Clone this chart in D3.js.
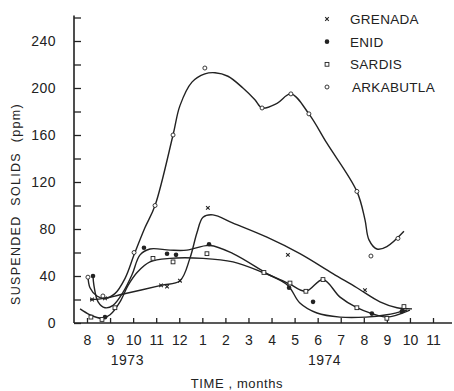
<!DOCTYPE html>
<html>
<head>
<meta charset="utf-8">
<script src="https://cdn.jsdelivr.net/npm/d3@7"></script>
<style>
    body { margin: 0; background: #fff; }
    svg text { font-family: "Liberation Sans", Arial, sans-serif; fill: #222; }
</style>
</head>
<body>
<script>
// month index: 0 = Aug 1973 ... 15 = Nov 1974
var monthTicks = d3.range(0, 16);
var monthLabels = ['8', '9', '10', '11', '12', '1', '2', '3', '4', '5', '6', '7', '8', '9', '10', '11'];
var yTicks = d3.range(0, 261, 20);
var yLabels = [0, 40, 80, 120, 160, 200, 240];
var seriesNames = ['GRENADA', 'ENID', 'SARDIS', 'ARKABUTLA'];

// measured points  [month, ppm]
var grenadaPts = [[0.22, 20], [0.78, 21], [3.21, 32], [3.47, 31], [4.03, 36], [5.24, 98], [8.71, 58], [12.05, 28], [13.7, 11]];
var enidPts = [[0.26, 40], [0.78, 5], [2.47, 64], [3.47, 59], [3.86, 58], [5.29, 67], [8.76, 30], [9.8, 18], [12.35, 8], [13.65, 10]];
var sardisPts = [[0.17, 5], [0.65, 3], [1.21, 13], [2.86, 55], [3.73, 52], [5.2, 59], [7.67, 43], [8.8, 34], [9.49, 27], [10.23, 37], [11.7, 13], [13.0, 4], [13.74, 14]];
var arkabutlaPts = [[0.04, 39], [0.69, 23], [2.04, 60], [2.95, 100], [3.73, 160], [5.11, 217], [7.59, 183], [8.84, 195], [9.62, 178], [11.7, 112], [12.31, 57], [13.48, 72]];

// fitted curves  [month, ppm]
var grenadaFit = [[0.13, 20], [0.78, 21], [1.43, 24], [3.21, 32], [4.03, 36], [4.46, 55], [4.77, 77], [5.03, 90], [5.46, 92], [6.33, 85], [7.8, 73], [9.23, 59], [10.66, 42], [11.7, 30], [12.7, 18], [13.44, 13], [14.09, 12]];
var enidFit = [[0.26, 40], [0.3, 32], [0.48, 18], [0.78, 13], [1.13, 15], [1.56, 26], [1.95, 41], [2.3, 58], [2.73, 63], [3.6, 62], [4.33, 62], [5.33, 66], [6.33, 59], [7.8, 42], [8.71, 32], [9.23, 17], [9.97, 8.5], [10.97, 5], [12.09, 5], [13.0, 7], [13.87, 11]];
var sardisFit = [[-0.3, 12], [0.13, 7], [0.65, 4], [1.0, 7], [1.43, 18], [1.78, 32], [2.17, 43], [2.73, 52], [3.6, 55], [5.03, 55], [6.33, 52], [7.63, 43], [8.37, 37], [8.8, 33], [9.49, 27], [10.23, 37], [10.97, 22], [11.7, 13], [12.35, 8], [13.0, 5], [14.0, 11]];
var arkabutlaFit = [[0.04, 40], [0.13, 30], [0.43, 23], [0.78, 21], [1.21, 25], [1.65, 38], [2.04, 58], [2.51, 81], [2.95, 100], [3.73, 160], [4.03, 185], [4.55, 205], [5.11, 212], [5.55, 213], [6.11, 210], [6.76, 200], [7.28, 190], [7.59, 183], [8.24, 187], [8.84, 195], [9.62, 178], [10.4, 153], [11.7, 112], [12.05, 88], [12.22, 71], [12.57, 63], [13.0, 65], [13.74, 78]];

var width = 454, height = 391;
var ink = '#222';

var svg = d3.select('body')
    .append('svg')
    .attr('width', width)
    .attr('height', height);

var x = d3.scaleLinear().domain([0, 15]).range([87, 433]);
var y = d3.scaleLinear().domain([0, 240]).range([323, 41]);

//axisx
var axisx = d3.axisBottom(x)
    .tickValues(monthTicks)
    .tickSize(-5)
    .tickPadding(10)
    .tickFormat((d, i) => monthLabels[i]);
var gx = svg.append('g')
    .attr('transform', `translate(0,${y(0)})`)
    .call(axisx);
gx.select('.domain').remove();
gx.append('line')
    .attr('x1', 74).attr('x2', 452)
    .attr('stroke', ink).attr('stroke-width', 1.6);
gx.selectAll('.tick line').attr('stroke', ink).attr('stroke-width', 1.3);
gx.selectAll('.tick text')
    .attr('fill', ink)
    .style('font-size', '14px')
    .attr('dy', '0.85em');

//axisy
var axisy = d3.axisLeft(y)
    .tickValues(yTicks)
    .tickSize(-7)
    .tickPadding(18)
    .tickFormat(d => yLabels.indexOf(d) >= 0 ? d : '');
var gy = svg.append('g')
    .attr('transform', `translate(74,0)`)
    .call(axisy);
gy.select('.domain').remove();
gy.append('line')
    .attr('y1', y(0)).attr('y2', y(260) - 2)
    .attr('stroke', ink).attr('stroke-width', 1.6);
gy.selectAll('.tick line').attr('stroke', ink).attr('stroke-width', 1.3);
gy.selectAll('.tick text')
    .attr('fill', ink)
    .style('font-size', '14px')
    .style('letter-spacing', '0.5px');

// year labels and titles
svg.append('text').attr('x', x(1.75)).attr('y', 365).attr('text-anchor', 'middle')
    .style('font-size', '14px').style('letter-spacing', '0.5px').text('1973');
svg.append('text').attr('x', x(10.3)).attr('y', 365).attr('text-anchor', 'middle')
    .style('font-size', '14px').style('letter-spacing', '0.5px').text('1974');
svg.append('text').attr('x', 237).attr('y', 388).attr('text-anchor', 'middle')
    .style('font-size', '13px').style('letter-spacing', '0.6px').text('TIME , months');
svg.append('text')
    .attr('transform', 'translate(20,204) rotate(-90)')
    .attr('text-anchor', 'middle')
    .style('font-size', '12.5px').style('letter-spacing', '1.3px').style('word-spacing', '5px')
    .text('SUSPENDED SOLIDS (ppm)');

// curves
var line = d3.line()
    .x(d => x(d[0]))
    .y(d => y(d[1]))
    .curve(d3.curveCatmullRom.alpha(0.5));

[grenadaFit, enidFit, sardisFit, arkabutlaFit].forEach(fit => {
    svg.append('path')
        .datum(fit)
        .attr('d', line)
        .attr('fill', 'none')
        .attr('stroke', ink)
        .attr('stroke-width', 1.4);
});

// markers
function drawMarker(g, kind) {
    if (kind === 'GRENADA') {
        g.append('path').attr('d', 'M-1.8,-1.8L1.8,1.8M-1.8,1.8L1.8,-1.8')
            .attr('stroke', ink).attr('stroke-width', 1.1);
    } else if (kind === 'ENID') {
        g.append('circle').attr('r', 2.3).attr('fill', ink);
    } else if (kind === 'SARDIS') {
        g.append('rect').attr('x', -1.9).attr('y', -1.9).attr('width', 3.8).attr('height', 3.8)
            .attr('fill', '#fff').attr('stroke', ink).attr('stroke-width', 0.9);
    } else {
        g.append('circle').attr('r', 2)
            .attr('fill', '#fff').attr('stroke', ink).attr('stroke-width', 0.9);
    }
}

var allPts = [grenadaPts, enidPts, sardisPts, arkabutlaPts];
allPts.forEach((pts, k) => {
    svg.selectAll(null)
        .data(pts).enter()
        .append('g')
        .attr('transform', d => `translate(${x(d[0])},${y(d[1])})`)
        .each(function () { drawMarker(d3.select(this), seriesNames[k]); });
});

//legend
var legendY = d3.scalePoint().domain(seriesNames).range([19, 87]);
var legend = svg.append('g');
seriesNames.forEach(name => {
    var row = legend.append('g').attr('transform', `translate(327,${legendY(name)})`);
    drawMarker(row, name);
    row.append('text')
        .attr('x', name === 'ARKABUTLA' ? 25 : 23)
        .attr('dy', '0.36em')
        .style('font-size', '13.5px')
        .style('letter-spacing', '0.3px')
        .text(name);
});
</script>
</body>
</html>
